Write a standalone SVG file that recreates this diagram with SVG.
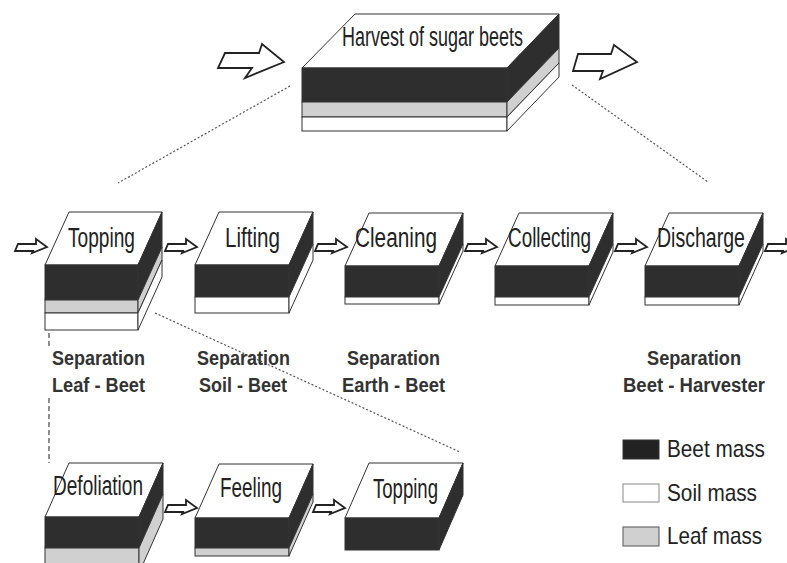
<svg xmlns="http://www.w3.org/2000/svg" width="787" height="563" viewBox="0 0 787 563">
<style>
.face{fill:#fff;stroke:#333;stroke-width:1}
.beet{fill:#2e2e2e;stroke:#333;stroke-width:1}
.leaf{fill:#d0d0d0;stroke:#333;stroke-width:1}
.soil{fill:#fff;stroke:#333;stroke-width:1}
.lbl{font-family:"Liberation Sans",Arial,sans-serif;font-size:27px;fill:#222}
.sep{font-family:"Liberation Sans",Arial,sans-serif;font-weight:bold;font-size:20px;fill:#333}
.leg{font-family:"Liberation Sans",Arial,sans-serif;font-size:24px;fill:#222}
.arrow{fill:#fff;stroke:#222;stroke-width:1.8;stroke-linejoin:miter}
.dot{stroke:#555;stroke-width:1.2;stroke-dasharray:2 2;fill:none}
.dash{stroke:#444;stroke-width:1.2;stroke-dasharray:5 3;fill:none}
</style>
<defs>
<polygon id="sa" class="arrow" points="3,-3 21,-3 21,-8 32,0 17,6 18,4 0,4"/>
</defs>
<rect width="787" height="563" fill="#fff"/>

<g id="connectors">
<line class="dot" x1="290" y1="86" x2="118" y2="183"/>
<line class="dot" x1="572" y1="85" x2="708" y2="182"/>
<line class="dot" x1="155" y1="313" x2="460" y2="452"/>
<line class="dash" x1="49" y1="333" x2="49" y2="346"/>
<line class="dash" x1="49" y1="398" x2="49" y2="463"/>
<polygon class="arrow" points="225,53 259,53 262,44 284,62 245,78 252,68 218,68"/>
<polygon class="arrow" points="578,54 611,54 614,45 637,62 600,79 603,71 573,71"/>
<use href="#sa" x="15" y="247"/>
<use href="#sa" x="165" y="247"/>
<use href="#sa" x="315" y="247"/>
<use href="#sa" x="465" y="247"/>
<use href="#sa" x="615" y="247"/>
<use href="#sa" x="765" y="247"/>
<use href="#sa" x="165" y="508"/>
<use href="#sa" x="313" y="508"/>
</g>

<g id="harvest">
<polygon class="face" points="302,68 355,14 559,14 507,68"/>
<rect class="beet" x="302" y="68" width="205" height="34"/>
<rect class="leaf" x="302" y="102" width="205" height="15"/>
<rect class="soil" x="302" y="117" width="205" height="14"/>
<polygon class="beet" points="507,68 559,14 559,48 507,102"/>
<polygon class="leaf" points="507,102 559,48 559,63 507,117"/>
<polygon class="soil" points="507,117 559,63 559,77 507,131"/>
<text class="lbl" x="342" y="46" font-size="26" textLength="181" lengthAdjust="spacingAndGlyphs">Harvest of sugar beets</text>
</g>

<g id="topping1">
<polygon class="face" points="45,265 69,212 162,212 138,265"/>
<rect class="beet" x="45" y="265" width="93" height="35"/>
<rect class="leaf" x="45" y="300" width="93" height="13"/>
<rect class="soil" x="45" y="313" width="93" height="17"/>
<polygon class="beet" points="138,265 162,212 162,247 138,300"/>
<polygon class="leaf" points="138,300 162,247 162,260 138,313"/>
<polygon class="soil" points="138,313 162,260 162,277 138,330"/>
<text class="lbl" x="68" y="247" textLength="67" lengthAdjust="spacingAndGlyphs">Topping</text>
</g>

<g id="lifting">
<polygon class="face" points="195,265 219,212 313,212 289,265"/>
<rect class="beet" x="195" y="265" width="94" height="32"/>
<rect class="soil" x="195" y="297" width="94" height="16"/>
<polygon class="beet" points="289,265 313,212 313,244 289,297"/>
<polygon class="soil" points="289,297 313,244 313,260 289,313"/>
<text class="lbl" x="225" y="247" textLength="55" lengthAdjust="spacingAndGlyphs">Lifting</text>
</g>

<g id="cleaning">
<polygon class="face" points="345,266 369,213 463,213 439,266"/>
<rect class="beet" x="345" y="266" width="94" height="31"/>
<rect class="soil" x="345" y="297" width="94" height="7"/>
<polygon class="beet" points="439,266 463,213 463,244 439,297"/>
<polygon class="soil" points="439,297 463,244 463,251 439,304"/>
<text class="lbl" x="355" y="247" textLength="82" lengthAdjust="spacingAndGlyphs">Cleaning</text>
</g>

<g id="collecting">
<polygon class="face" points="495,266 519,213 613,213 589,266"/>
<rect class="beet" x="495" y="266" width="94" height="31"/>
<rect class="soil" x="495" y="297" width="94" height="8"/>
<polygon class="beet" points="589,266 613,213 613,244 589,297"/>
<polygon class="soil" points="589,297 613,244 613,252 589,305"/>
<text class="lbl" x="508" y="247" textLength="83" lengthAdjust="spacingAndGlyphs">Collecting</text>
</g>

<g id="discharge">
<polygon class="face" points="645,266 669,213 763,213 739,266"/>
<rect class="beet" x="645" y="266" width="94" height="31"/>
<rect class="soil" x="645" y="297" width="94" height="8"/>
<polygon class="beet" points="739,266 763,213 763,244 739,297"/>
<polygon class="soil" points="739,297 763,244 763,252 739,305"/>
<text class="lbl" x="657" y="247" textLength="88" lengthAdjust="spacingAndGlyphs">Discharge</text>
</g>

<g id="defoliation">
<polygon class="face" points="45,517 69,463 163,463 139,517"/>
<rect class="beet" x="45" y="517" width="94" height="31"/>
<rect class="leaf" x="45" y="548" width="94" height="25"/>
<polygon class="beet" points="139,517 163,463 163,494 139,548"/>
<polygon class="leaf" points="139,548 163,494 163,519 139,573"/>
<text class="lbl" x="53" y="495" textLength="90" lengthAdjust="spacingAndGlyphs">Defoliation</text>
</g>

<g id="feeling">
<polygon class="face" points="195,518 219,464 313,464 289,518"/>
<rect class="beet" x="195" y="518" width="94" height="30"/>
<rect class="leaf" x="195" y="548" width="94" height="8"/>
<polygon class="beet" points="289,518 313,464 313,494 289,548"/>
<polygon class="leaf" points="289,548 313,494 313,502 289,556"/>
<text class="lbl" x="220" y="497" textLength="62" lengthAdjust="spacingAndGlyphs">Feeling</text>
</g>

<g id="topping2">
<polygon class="face" points="345,518 369,463 463,463 439,518"/>
<rect class="beet" x="345" y="518" width="94" height="32"/>
<polygon class="beet" points="439,518 463,463 463,495 439,550"/>
<text class="lbl" x="373" y="498" textLength="65" lengthAdjust="spacingAndGlyphs">Topping</text>
</g>

<g id="sep-leaf">
<text class="sep" x="52" y="365" textLength="93" lengthAdjust="spacingAndGlyphs">Separation</text>
<text class="sep" x="52" y="392" textLength="93" lengthAdjust="spacingAndGlyphs">Leaf - Beet</text>
</g>
<g id="sep-soil">
<text class="sep" x="197" y="365" textLength="93" lengthAdjust="spacingAndGlyphs">Separation</text>
<text class="sep" x="199" y="392" textLength="88" lengthAdjust="spacingAndGlyphs">Soil - Beet</text>
</g>
<g id="sep-earth">
<text class="sep" x="347" y="365" textLength="93" lengthAdjust="spacingAndGlyphs">Separation</text>
<text class="sep" x="342" y="392" textLength="103" lengthAdjust="spacingAndGlyphs">Earth - Beet</text>
</g>
<g id="sep-harvester">
<text class="sep" x="647" y="365" textLength="94" lengthAdjust="spacingAndGlyphs">Separation</text>
<text class="sep" x="623" y="392" textLength="142" lengthAdjust="spacingAndGlyphs">Beet - Harvester</text>
</g>

<g id="legend">
<rect x="623" y="440" width="36" height="19" fill="#222" stroke="#333"/>
<rect x="623" y="484" width="36" height="18" fill="#fff" stroke="#888"/>
<rect x="623" y="527" width="36" height="19" fill="#d0d0d0" stroke="#555"/>
<text class="leg" x="667" y="457" textLength="98" lengthAdjust="spacingAndGlyphs">Beet mass</text>
<text class="leg" x="667" y="501" textLength="90" lengthAdjust="spacingAndGlyphs">Soil mass</text>
<text class="leg" x="667" y="544" textLength="95" lengthAdjust="spacingAndGlyphs">Leaf mass</text>
</g>
</svg>
